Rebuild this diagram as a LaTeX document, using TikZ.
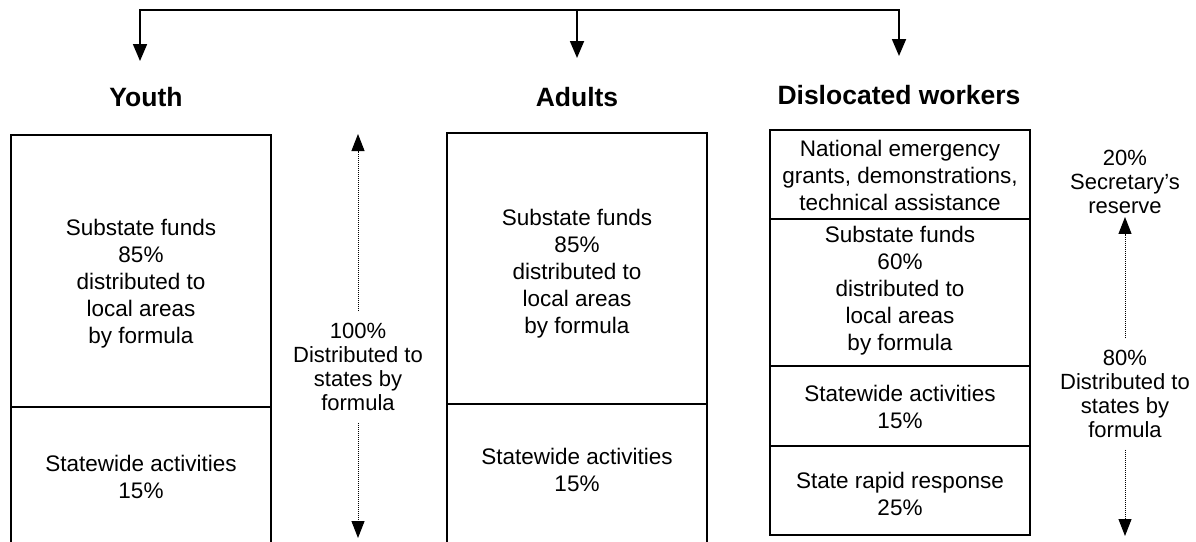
\documentclass[tikz,border=0pt]{standalone}
\usepackage{fontspec}
\setmainfont{Liberation Sans}
\usetikzlibrary{arrows.meta}
\tikzset{
  boxline/.style={line width=1.8pt},
  fundtext/.style={inner sep=0pt, align=center, font=\fontsize{22.5}{27}\selectfont},
  sidetext/.style={inner sep=0pt, align=center, font=\fontsize{22}{24}\selectfont},
  headtext/.style={inner sep=0pt, font=\bfseries\fontsize{26.5}{30}\selectfont},
  bararrow/.style={line width=1.8pt, {Triangle[width=14pt,length=17pt]}-{Triangle[width=14pt,length=17pt]}},
  downarrow/.style={line width=1.8pt, -{Triangle[width=14pt,length=17pt]}},
  dotarrow/.style={line width=1pt, densely dotted, -{Triangle[width=13pt,length=17pt]}},
}
\newcommand{\fundcell}[4]{\draw[boxline] (#1,#2) rectangle (#3,#4);}
\newcommand{\fundlabel}[4]{\node[fundtext] (#3) at (#1,#2) {#4};}
\newcommand{\sidelabel}[4]{\node[sidetext] (#3) at (#1,#2) {#4};}
\begin{document}
\begin{tikzpicture}[x=1pt,y=-1pt]
    \useasboundingbox (0,0) rectangle (1196,541);
    \clip (0,0) rectangle (1196,541);

    % top bar
    \coordinate (busl) at (140,10);
    \coordinate (busm) at (577,10);
    \coordinate (busr) at (899,10);
    \coordinate (youthin) at (140,61);
    \coordinate (adultsin) at (577,58);
    \coordinate (dislin) at (899,56);
    \draw[bararrow] (youthin) |- (busr) -- (dislin);
    \draw[downarrow] (busm) -- (adultsin);

    % headings
    \node[headtext] (youth) at (146,97) {Youth};
    \node[headtext] (adults) at (577,97) {Adults};
    \node[headtext] (dislocated) at (899,95) {Dislocated workers};

    % youth
    \fundcell{11}{135}{271}{560}
    \fundcell{11}{407}{271}{560}
    \fundlabel{141}{284}{youthsub}{Substate funds\\85\%\\distributed to\\local areas\\by formula}
    \fundlabel{141}{477}{youthstate}{Statewide activities\\15\%}

    % adults
    \fundcell{447}{133}{707}{560}
    \fundcell{447}{404}{707}{560}
    \fundlabel{577}{274}{adultsub}{Substate funds\\85\%\\distributed to\\local areas\\by formula}
    \fundlabel{577}{470}{adultstate}{Statewide activities\\15\%}

    % dislocated workers
    \fundcell{770}{130}{1030}{219}
    \fundcell{770}{219}{1030}{366}
    \fundcell{770}{366}{1030}{446}
    \fundcell{770}{446}{1030}{535}
    \fundlabel{900}{175}{dislnat}{National emergency\\grants, demonstrations,\\technical assistance}
    \fundlabel{900}{291}{dislsub}{Substate funds\\60\%\\distributed to\\local areas\\by formula}
    \fundlabel{900}{407}{dislstate}{Statewide activities\\15\%}
    \fundlabel{900}{494}{dislrapid}{State rapid response\\25\%}

    % 100% share
    \sidelabel{358}{367}{fullshare}{100\%\\Distributed to\\states by\\formula}
    \coordinate (fulltop) at (358,134);
    \coordinate (fullbot) at (358,538);
    \draw[dotarrow, shorten <=12pt] (fullshare.north) -- (fulltop);
    \draw[dotarrow, shorten <=12pt] (fullshare.south) -- (fullbot);

    % 20% / 80% split
    \sidelabel{1125}{182}{reserve}{20\%\\Secretary's\\reserve}
    \sidelabel{1125}{394}{stateshare}{80\%\\Distributed to\\states by\\formula}
    \coordinate (statebot) at (1125,536);
    \draw[dotarrow, shorten <=12pt, shorten >=3pt] (stateshare.north) -- (reserve.south);
    \draw[dotarrow, shorten <=12pt] (stateshare.south) -- (statebot);
\end{tikzpicture}
\end{document}
